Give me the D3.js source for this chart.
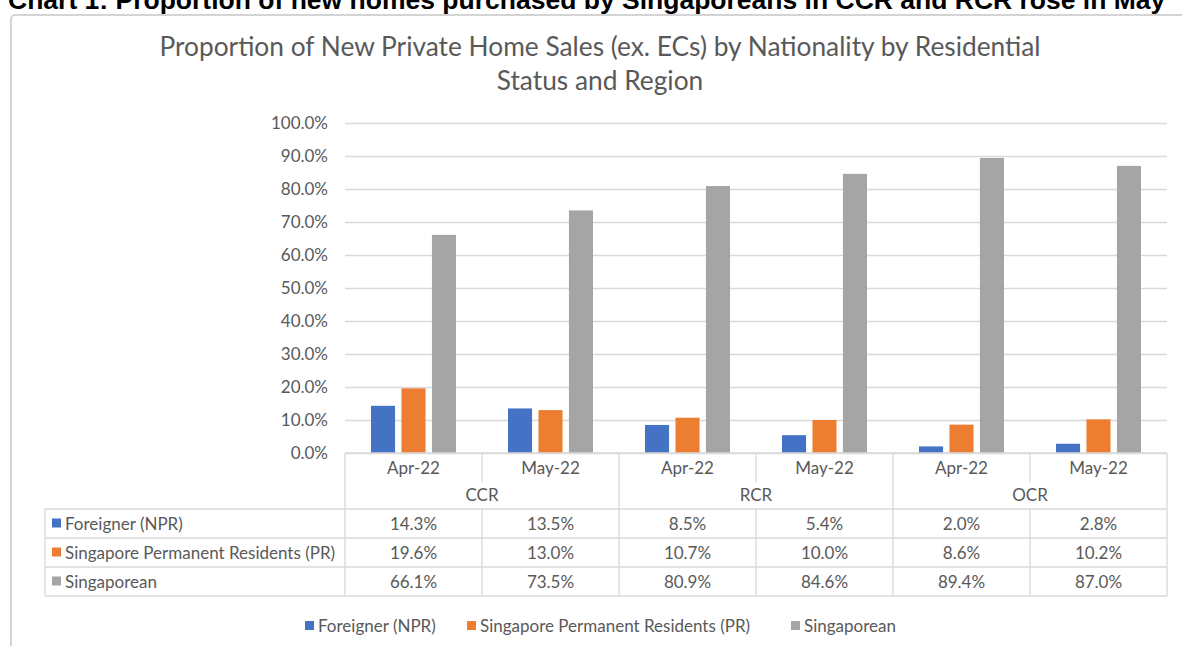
<!DOCTYPE html>
<html>
<head>
<meta charset="utf-8">
<script src="https://cdn.jsdelivr.net/npm/d3@7"></script>
<style>
  body { margin: 0; background: #fff; }
  svg text { font-family: Lato, "Open Sans", sans-serif; }
</style>
</head>
<body>
<svg id="chart" width="1182" height="646"></svg>
<script>
// data
const regions = ["CCR", "RCR", "OCR"];
const months = ["Apr-22", "May-22"];
const seriesNames = ["Foreigner (NPR)", "Singapore Permanent Residents (PR)", "Singaporean"];
const foreigner = [14.3, 13.5, 8.5, 5.4, 2.0, 2.8];
const permanentRes = [19.6, 13.0, 10.7, 10.0, 8.6, 10.2];
const singaporean = [66.1, 73.5, 80.9, 84.6, 89.4, 87.0];
const yTicks = [0, 10, 20, 30, 40, 50, 60, 70, 80, 90, 100];
const colors = ["#4472C4", "#ED7D31", "#A5A5A5"];

const categories = [];
regions.forEach(r => months.forEach(m => categories.push({region: r, month: m, key: r + "|" + m})));
const seriesValues = [foreigner, permanentRes, singaporean];

const svg = d3.select("#chart");
const textCol = "#595959";
const lineCol = "#d9d9d9";
const fs = "17px";

// page heading (cut off at top like the screenshot)
svg.append("text")
    .attr("x", 8).attr("y", 9)
    .style("font-family", "'Liberation Sans', Arial, sans-serif")
    .style("font-weight", "bold")
    .style("font-size", "26.5px")
    .attr("fill", "#000")
    .text("Chart 1: Proportion of new homes purchased by Singaporeans in CCR and RCR rose in May");

// chart frame
svg.append("rect")
    .attr("x", 11).attr("y", 15)
    .attr("width", 1200).attr("height", 700)
    .attr("rx", 4)
    .attr("fill", "none")
    .attr("stroke", "#d4d4d4")
    .attr("stroke-width", 2);

// title
const title = svg.append("text")
    .attr("text-anchor", "middle")
    .attr("fill", textCol)
    .style("font-size", "26.3px");
title.append("tspan").attr("x", 600).attr("y", 56)
    .text("Proportion of New Private Home Sales (ex. ECs) by Nationality by Residential");
title.append("tspan").attr("x", 600).attr("y", 90)
    .text("Status and Region");

const plotLeft = 345, plotRight = 1167, plotTop = 123, plotBottom = 453;

const x = d3.scaleBand()
    .domain(categories.map(d => d.key))
    .range([plotLeft, plotRight])
    .padding(0);

const xInner = d3.scaleBand()
    .domain(seriesNames)
    .range([26, x.bandwidth() - 26])
    .paddingInner(0.21);

const y = d3.scaleLinear().domain([0, 100]).range([plotBottom, plotTop]);

// y axis with gridlines
const yAxis = svg.append("g")
    .attr("transform", `translate(${plotLeft},0)`)
    .call(d3.axisLeft(y)
        .tickValues(yTicks)
        .tickFormat(d => d.toFixed(1) + "%")
        .tickSize(-(plotRight - plotLeft))
        .tickPadding(17));
yAxis.select(".domain").remove();
yAxis.selectAll(".tick line").attr("stroke", lineCol).attr("stroke-width", 1.3);
yAxis.selectAll(".tick text")
    .attr("fill", textCol)
    .style("font-size", fs)
    .style("font-family", "Lato, sans-serif");

// bars
const groups = svg.append("g").selectAll("g")
    .data(seriesNames)
    .join("g")
    .attr("fill", (d, i) => colors[i]);

groups.selectAll("rect")
    .data((s, i) => categories.map((c, j) => ({series: s, cat: c.key, value: seriesValues[i][j]})))
    .join("rect")
    .attr("x", d => x(d.cat) + xInner(d.series))
    .attr("width", xInner.bandwidth())
    .attr("y", d => y(d.value))
    .attr("height", d => y(0) - y(d.value));

// data table
const tableLeft = 45;
const rowTops = [509, 538, 567, 596];
const monthSplit = 482;
const table = svg.append("g");
const tline = (x1, y1, x2, y2) => table.append("line")
    .attr("x1", x1).attr("y1", y1).attr("x2", x2).attr("y2", y2)
    .attr("stroke", lineCol).attr("stroke-width", 1.3);

// horizontal lines
tline(plotLeft, plotBottom, plotRight, plotBottom);
rowTops.forEach(r => tline(tableLeft, r, plotRight, r));
// region boundaries full height
const regionEdges = [plotLeft].concat(regions.map((r, i) => x(categories[i * 2 + 1].key) + x.bandwidth()));
regionEdges.forEach(e => tline(e, plotBottom, e, rowTops[3]));
tline(tableLeft, rowTops[0], tableLeft, rowTops[3]);
// month separators
regions.forEach((r, i) => {
    const xm = x(categories[i * 2 + 1].key);
    tline(xm, plotBottom, xm, monthSplit);
    tline(xm, rowTops[0], xm, rowTops[3]);
});

// header labels
table.selectAll(".month")
    .data(categories)
    .join("text")
    .attr("x", d => x(d.key) + x.bandwidth() / 2)
    .attr("y", 474)
    .attr("text-anchor", "middle")
    .attr("fill", textCol)
    .style("font-size", fs)
    .text(d => d.month);

table.selectAll(".region")
    .data(regions)
    .join("text")
    .attr("x", (d, i) => x(categories[i * 2].key) + x.bandwidth())
    .attr("y", 501)
    .attr("text-anchor", "middle")
    .attr("fill", textCol)
    .style("font-size", fs)
    .text(d => d);

// rows
seriesNames.forEach((s, i) => {
    const yMid = (rowTops[i] + rowTops[i + 1]) / 2;
    table.append("rect")
        .attr("x", tableLeft + 7).attr("y", yMid - 5)
        .attr("width", 9).attr("height", 9)
        .attr("fill", colors[i]);
    table.append("text")
        .attr("x", tableLeft + 20).attr("y", yMid + 6)
        .attr("fill", textCol)
        .style("font-size", fs)
        .text(s);
    table.selectAll(null)
        .data(categories)
        .join("text")
        .attr("x", d => x(d.key) + x.bandwidth() / 2)
        .attr("y", yMid + 6)
        .attr("text-anchor", "middle")
        .attr("fill", textCol)
        .style("font-size", fs)
        .text((d, j) => seriesValues[i][j].toFixed(1) + "%");
});

// bottom legend
const legendX = [305, 467, 791];
const legend = svg.append("g").selectAll("g")
    .data(seriesNames)
    .join("g")
    .attr("transform", (d, i) => `translate(${legendX[i]},626)`);
legend.append("rect")
    .attr("x", 0).attr("y", -5)
    .attr("width", 9).attr("height", 9)
    .attr("fill", (d, i) => colors[i]);
legend.append("text")
    .attr("x", 13).attr("y", 6)
    .attr("fill", textCol)
    .style("font-size", fs)
    .text(d => d);
</script>
</body>
</html>
